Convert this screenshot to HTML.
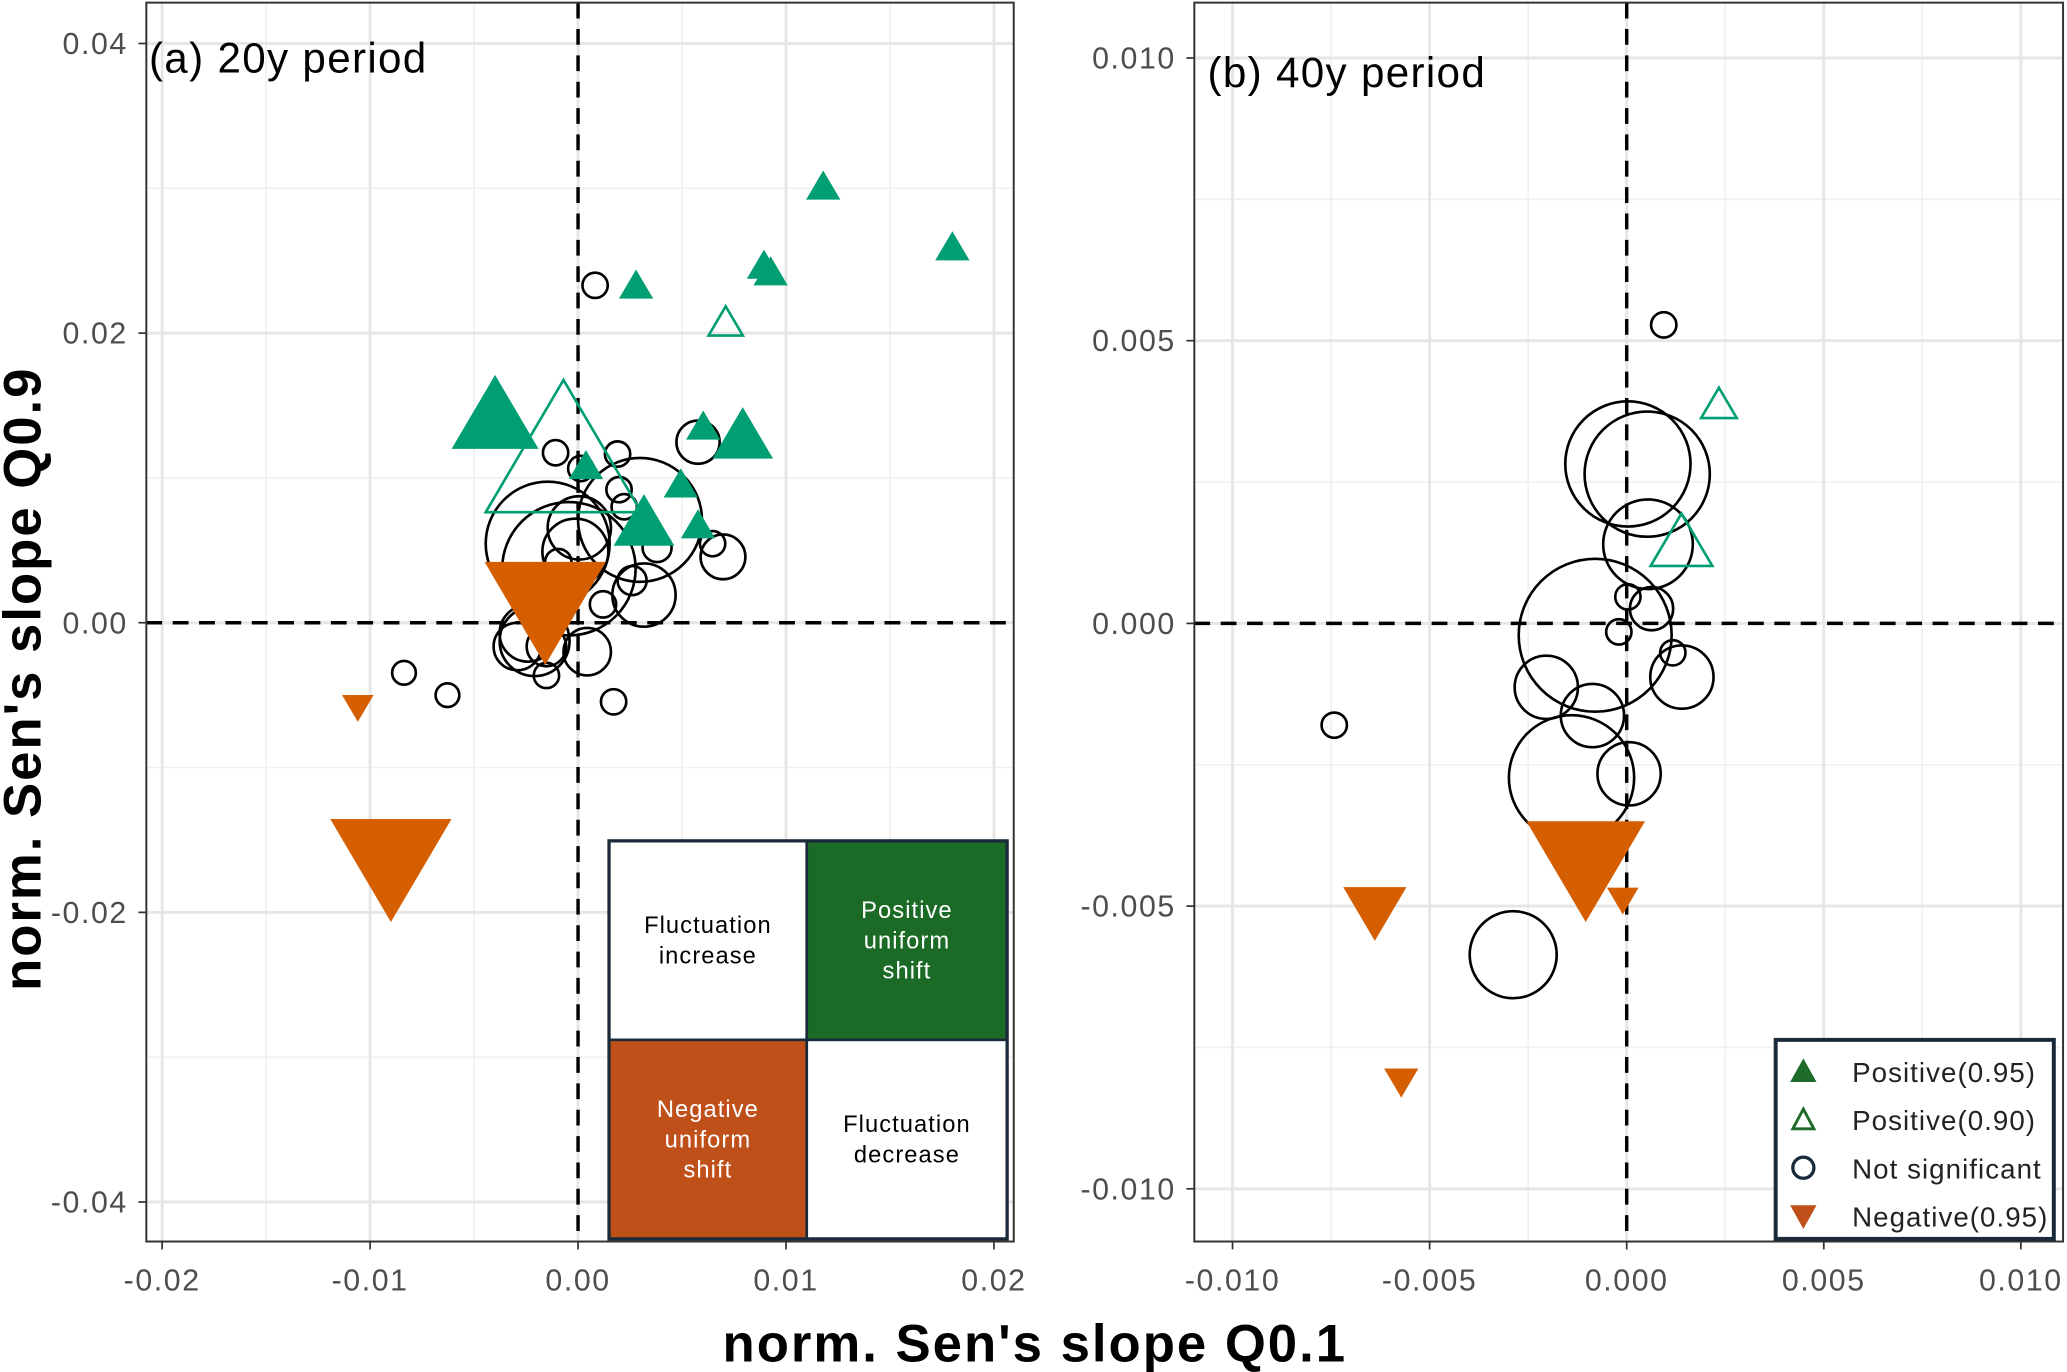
<!DOCTYPE html>
<html><head><meta charset="utf-8"><style>
html,body{margin:0;padding:0;background:#fff;}
svg{display:block;font-family:"Liberation Sans",Arial,sans-serif;}
</style></head><body>
<svg id="chart" width="2067" height="1372" viewBox="0 0 1568 1041" preserveAspectRatio="none" xmlns="http://www.w3.org/2000/svg">
<rect x="0" y="0" width="1568" height="1041" fill="#fff"/>
<g id="panelA"></g>
<g id="panelB"></g>
<text x="20" y="515" transform="rotate(-90 20 515)" text-anchor="middle" dominant-baseline="middle" font-size="40" letter-spacing="1.5" font-weight="bold">norm. Sen's slope Q0.9</text>
<text x="785" y="1033" text-anchor="middle" font-size="40" letter-spacing="1.5" font-weight="bold">norm. Sen's slope Q0.1</text>
</svg>
<script>
// ---- Panel A data (20y) ----
const aPosX=[0.01179,0.018,0.00894,0.00926,0.00279,-0.00399,0.00602,0.00792,0.00038,0.00494,0.00317,0.00577];
const aPosY=[0.03022,0.02603,0.02476,0.0243,0.02339,0.01456,0.01365,0.01311,0.01092,0.00965,0.0071,0.00683];
const aPosS=[13,13,13,13,13,33,13,23,13,13,23,13];
const aP90X=[0.0071,-0.0007];
const aP90Y=[0.02084,0.0122];
const aP90S=[13,59];
const aNegX=[-0.01059,-0.009,-0.00158];
const aNegY=[-0.00592,-0.01711,0.00064];
const aNegS=[12,46,46];
const aNsX=[0.00082,-0.00108,0.0019,0.00577,0.00013,0.00197,0.00222,0.00298,0.00006,-0.00146,-0.00044,-0.00013,-0.00095,0.0038,0.00647,0.00697,0.0026,0.00317,0.0012,-0.00241,-0.00292,-0.00152,0.00044,-0.00152,0.00171,-0.00209,-0.00837,-0.00628];
const aNsY=[0.0233,0.01174,0.01165,0.01247,0.01065,0.00919,0.00801,0.0071,0.00655,0.00546,0.00373,0.00491,0.00419,0.00519,0.00546,0.00455,0.00291,0.00191,0.00127,-0.00073,-0.00164,-0.00164,-0.002,-0.00364,-0.00546,-0.00127,-0.00346,-0.005];
const aNsS=[9.6,9.6,9.6,16.4,9.6,9.6,9.6,47,24,47,50.6,25,10,11,9.6,17,11,24,10,21.5,18,15,18,9.6,9.6,26.5,9,9];
const aXTicks=[-0.02,-0.01,0,0.01,0.02];
const aXLabels=["-0.02","-0.01","0.00","0.01","0.02"];
const aYTicks=[0.04,0.02,0,-0.02,-0.04];
const aYLabels=["0.04","0.02","0.00","-0.02","-0.04"];
// ---- Panel B data (40y) ----
const bPosX=[], bPosY=[], bPosS=[];
const bP90X=[0.00234,0.00139];
const bP90Y=[0.0039,0.00148];
const bP90S=[13.5,23.4];
const bNegX=[-0.00104,-0.00639,-0.0001,-0.00572];
const bNegY=[-0.00439,-0.00514,-0.00491,-0.00813];
const bNegS=[45,24,12,13];
const bNsX=[0.00003,0.00052,0.00054,0.00003,0.00063,-0.0002,-0.0008,0.00117,0.0014,-0.00204,-0.00087,-0.0014,0.00006,0.00094,-0.00742,-0.00288];
const bNsY=[0.00282,0.00264,0.0014,0.00047,0.00026,-0.00015,-0.00021,-0.00052,-0.00095,-0.00113,-0.00163,-0.00273,-0.00266,0.00528,-0.0018,-0.00586];
const bNsS=[47.5,47.5,34,9.6,16.4,9.6,58,9.6,24,24,24,47.5,24,9.6,9.6,33];
const bXTicks=[-0.01,-0.005,0,0.005,0.01];
const bXLabels=["-0.010","-0.005","0.000","0.005","0.010"];
const bYTicks=[0.01,0.005,0,-0.005,-0.01];
const bYLabels=["0.010","0.005","0.000","-0.005","-0.010"];

const NS="http://www.w3.org/2000/svg";
function mk(tag,attrs,parent){const e=document.createElementNS(NS,tag);for(const k in attrs)e.setAttribute(k,attrs[k]);parent.appendChild(e);return e;}
const GREEN="#009e73", ORANGE="#d55e00";

function panel(g,cfg){
  const sx=v=>cfg.x0px+(v-cfg.xd0)/(cfg.xd1-cfg.xd0)*(cfg.x1px-cfg.x0px);
  const sy=v=>cfg.y0px+(v-cfg.yd0)/(cfg.yd1-cfg.yd0)*(cfg.y1px-cfg.y0px);
  const L=cfg.left,R=cfg.right,T=cfg.top,B=cfg.bottom;
  for(let i=0;i<cfg.xt.length-1;i++){const v=(cfg.xt[i]+cfg.xt[i+1])/2;const l=mk('line',{x1:sx(v),x2:sx(v),y1:T,y2:B,stroke:'#f0f0f0','stroke-width':1.2},g);
    
    }
  for(let i=0;i<cfg.yt.length-1;i++){const v=(cfg.yt[i]+cfg.yt[i+1])/2;const l=mk('line',{x1:L,x2:R,y1:sy(v),y2:sy(v),stroke:'#f0f0f0','stroke-width':1.2},g);
    
    }
  cfg.xt.forEach((v,i)=>{const l=mk('line',{x1:sx(v),x2:sx(v),y1:T,y2:B,stroke:'#e6e6e6','stroke-width':2.2},g);
    
    
    const t=mk('line',{x1:sx(v),x2:sx(v),y1:B,y2:B+6,stroke:'#333','stroke-width':1.3},g);
    
    
    const tx=mk('text',{x:sx(v),y:B+37,'text-anchor':'middle','font-size':23,'letter-spacing':1.2,fill:'#4d4d4d'},g);tx.textContent=cfg.xl[i];
    
    });
  cfg.yt.forEach((v,i)=>{const l=mk('line',{x1:L,x2:R,y1:sy(v),y2:sy(v),stroke:'#e6e6e6','stroke-width':2.2},g);
    
    
    const t=mk('line',{x1:L-6,x2:L,y1:sy(v),y2:sy(v),stroke:'#333','stroke-width':1.3},g);
    
    
    const tx=mk('text',{x:L-14,y:sy(v)+8,'text-anchor':'end','font-size':23,'letter-spacing':1.2,fill:'#4d4d4d'},g);tx.textContent=cfg.yl[i];
    
    });
  let z=mk('line',{x1:sx(0),x2:sx(0),y1:T,y2:B,stroke:'#000','stroke-width':2.6,'stroke-dasharray':'12 8'},g);
  
  
  z=mk('line',{x1:L,x2:R,y1:sy(0),y2:sy(0),stroke:'#000','stroke-width':2.6,'stroke-dasharray':'12 8'},g);
  
  
  if(cfg.inset)cfg.inset(g);
  const tri=(cx,cy,h,up)=>{const ht=1.7*h;return up?`${cx-h},${cy+ht/2} ${cx+h},${cy+ht/2} ${cx},${cy-ht/2}`:`${cx-h},${cy-ht/2} ${cx+h},${cy-ht/2} ${cx},${cy+ht/2}`;};
  cfg.nsX.forEach((v,i)=>{const c=mk('circle',{cx:sx(v),cy:sy(cfg.nsY[i]),r:cfg.nsS[i],fill:'none',stroke:'#000','stroke-width':2},g);
    
    });
  cfg.p90X.forEach((v,i)=>{const p=mk('polygon',{points:tri(sx(v),sy(cfg.p90Y[i]),cfg.p90S[i],true),fill:'none',stroke:GREEN,'stroke-width':2},g);
    
    });
  cfg.posX.forEach((v,i)=>{const p=mk('polygon',{points:tri(sx(v),sy(cfg.posY[i]),cfg.posS[i],true),fill:GREEN},g);
    
    });
  cfg.negX.forEach((v,i)=>{const p=mk('polygon',{points:tri(sx(v),sy(cfg.negY[i]),cfg.negS[i],false),fill:ORANGE},g);
    
    });
  const fr=mk('rect',{x:L,y:T,width:R-L,height:B-T,fill:'none',stroke:'#333','stroke-width':1.5},g);
  
  
  const lab=mk('text',{x:cfg.labX,y:cfg.labY,'font-size':32,'letter-spacing':1,fill:'#000'},g);lab.textContent=cfg.label;
  
  
}

function insetA(g){
  const cells=[[462,638,150,151,'#fff','#000',['Fluctuation','increase'],'fluctuation-increase-cell'],
    [612,638,152,151,'#1b6b27','#fff',['Positive','uniform','shift'],'positive-shift-cell'],
    [462,789,150,151,'#c0501a','#fff',['Negative','uniform','shift'],'negative-shift-cell'],
    [612,789,152,151,'#fff','#000',['Fluctuation','decrease'],'fluctuation-decrease-cell']];
  cells.forEach(c=>{const r=mk('rect',{x:c[0],y:c[1],width:c[2],height:c[3],fill:c[4],stroke:'#1a2a3a','stroke-width':2},g);
    
    
    const n=c[6].length;const cy=c[1]+c[3]/2-(n-1)*11.5+6;
    c[6].forEach((s,k)=>{const t=mk('text',{x:c[0]+c[2]/2,y:cy+k*23,'text-anchor':'middle','font-size':18,'letter-spacing':0.8,fill:c[5]},g);t.textContent=s;
      
      });});
  const b=mk('rect',{x:462,y:638,width:302,height:302,fill:'none',stroke:'#1a2a3a','stroke-width':2.5},g);
  
  
}

panel(document.getElementById('panelA'),{left:111,right:769,top:2,bottom:942,
  x0px:123,x1px:754,xd0:-0.02,xd1:0.02,y0px:33,y1px:912,yd0:0.04,yd1:-0.04,
  xt:aXTicks,xl:aXLabels,yt:aYTicks,yl:aYLabels,
  posX:aPosX,posY:aPosY,posS:aPosS,p90X:aP90X,p90Y:aP90Y,p90S:aP90S,negX:aNegX,negY:aNegY,negS:aNegS,nsX:aNsX,nsY:aNsY,nsS:aNsS,
  label:'(a) 20y period',labX:113,labY:55,inset:insetA});
panel(document.getElementById('panelB'),{left:906,right:1565,top:2,bottom:942,
  x0px:935,x1px:1533,xd0:-0.01,xd1:0.01,y0px:44,y1px:902,yd0:0.01,yd1:-0.01,
  xt:bXTicks,xl:bXLabels,yt:bYTicks,yl:bYLabels,
  posX:bPosX,posY:bPosY,posS:bPosS,p90X:bP90X,p90Y:bP90Y,p90S:bP90S,negX:bNegX,negY:bNegY,negS:bNegS,nsX:bNsX,nsY:bNsY,nsS:bNsS,
  label:'(b) 40y period',labX:916,labY:66});

(function(){
  const g=mk('g',{},document.getElementById('panelB'));
  
  
  mk('rect',{x:1347,y:789,width:211,height:151,fill:'#fff',stroke:'#1a2a3a','stroke-width':3},g);
  const items=[['Positive(0.95)','up-fill'],['Positive(0.90)','up-open'],['Not significant','circle'],['Negative(0.95)','down']];
  items.forEach((it,i)=>{const y=813+i*36.5;const x=1368;let m;
    if(it[1]==='up-fill')m=mk('polygon',{points:`${x-10},${y+8} ${x+10},${y+8} ${x},${y-10}`,fill:'#1e6b2a'},g);
    else if(it[1]==='up-open')m=mk('polygon',{points:`${x-8},${y+7} ${x+8},${y+7} ${x},${y-8}`,fill:'none',stroke:'#1e6b2a','stroke-width':2.2},g);
    else if(it[1]==='circle')m=mk('circle',{cx:x,cy:y,r:8,fill:'none',stroke:'#1a2a3a','stroke-width':2.5},g);
    else m=mk('polygon',{points:`${x-10},${y-8} ${x+10},${y-8} ${x},${y+10}`,fill:'#c0501a'},g);
    
    
    const t=mk('text',{x:1405,y:y+8,'font-size':21,'letter-spacing':0.8,fill:'#222'},g);t.textContent=it[0];
    
    });
})();
</script>
</body></html>
